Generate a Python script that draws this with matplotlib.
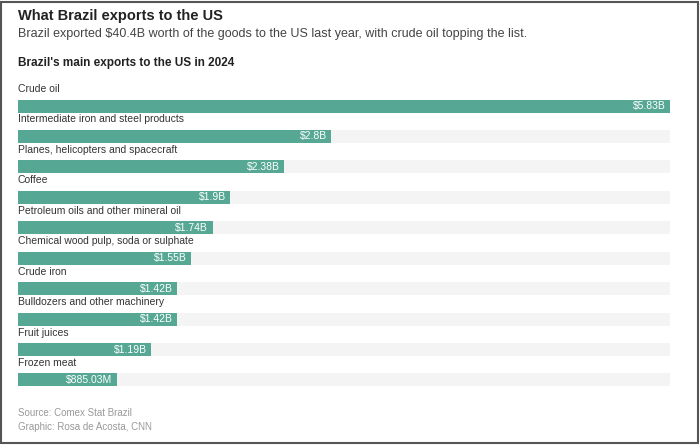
import matplotlib
matplotlib.use("Agg")
import matplotlib.pyplot as plt
from matplotlib.patches import Rectangle

categories = ["Crude oil", "Intermediate iron and steel products", "Planes, helicopters and spacecraft",
              "Coffee", "Petroleum oils and other mineral oil", "Chemical wood pulp, soda or sulphate",
              "Crude iron", "Bulldozers and other machinery", "Fruit juices", "Frozen meat"]
values = [5.83, 2.8, 2.38, 1.9, 1.74, 1.55, 1.42, 1.42, 1.19, 0.88503]
value_labels = ["$5.83B", "$2.8B", "$2.38B", "$1.9B", "$1.74B", "$1.55B", "$1.42B", "$1.42B", "$1.19B", "$885.03M"]

W, H = 700, 445
fig = plt.figure(figsize=(7, 4.45), dpi=100)
fig.patch.set_facecolor("white")
plt.rcParams["font.family"] = "Liberation Sans"

# border
fig.add_artist(Rectangle((1/W, 2/H), 697/W, 441/H, transform=fig.transFigure,
                         fill=False, edgecolor="#555555", lw=1.5))

sp = 30.44
top_px = 106 - 0.5 * sp
bot_px = 380 + 0.5 * sp
ax = fig.add_axes([18/W, 1 - bot_px/H, (670-18)/W, (bot_px-top_px)/H])
ax.set_xlim(0, 5.83)
ax.set_ylim(len(categories)-0.5, -0.5)
ax.axis("off")

ys = list(range(len(categories)))
bh = 13/sp
ax.barh(ys, [5.83]*len(ys), height=bh, color="#f4f4f4", left=0)
ax.barh(ys, values, height=bh, color="#56a894")
for y, v, c, lab in zip(ys, values, categories, value_labels):
    ax.text(v - 0.04, y, lab, color="white", fontsize=7.5, ha="right", va="center")
    ax.text(0, y - 17/sp, c, color="#333333", fontsize=7.5, ha="left", va="center", clip_on=False)

fig.text(18/W, 1-16/H, "What Brazil exports to the US", fontsize=10.5, fontweight="bold", color="#222222", va="center")
fig.text(18/W, 1-34/H, "Brazil exported $40.4B worth of the goods to the US last year, with crude oil topping the list.",
         fontsize=9, color="#444444", va="center")
fig.text(18/W, 1-63/H, "Brazil's main exports to the US in 2024", fontsize=8.5, fontweight="bold", color="#222222", va="center")
fig.text(18/W, 1-413/H, "Source: Comex Stat Brazil", fontsize=7, color="#999999", va="center")
fig.text(18/W, 1-427/H, "Graphic: Rosa de Acosta, CNN", fontsize=7, color="#999999", va="center")

fig.savefig("out.png", dpi=100)
